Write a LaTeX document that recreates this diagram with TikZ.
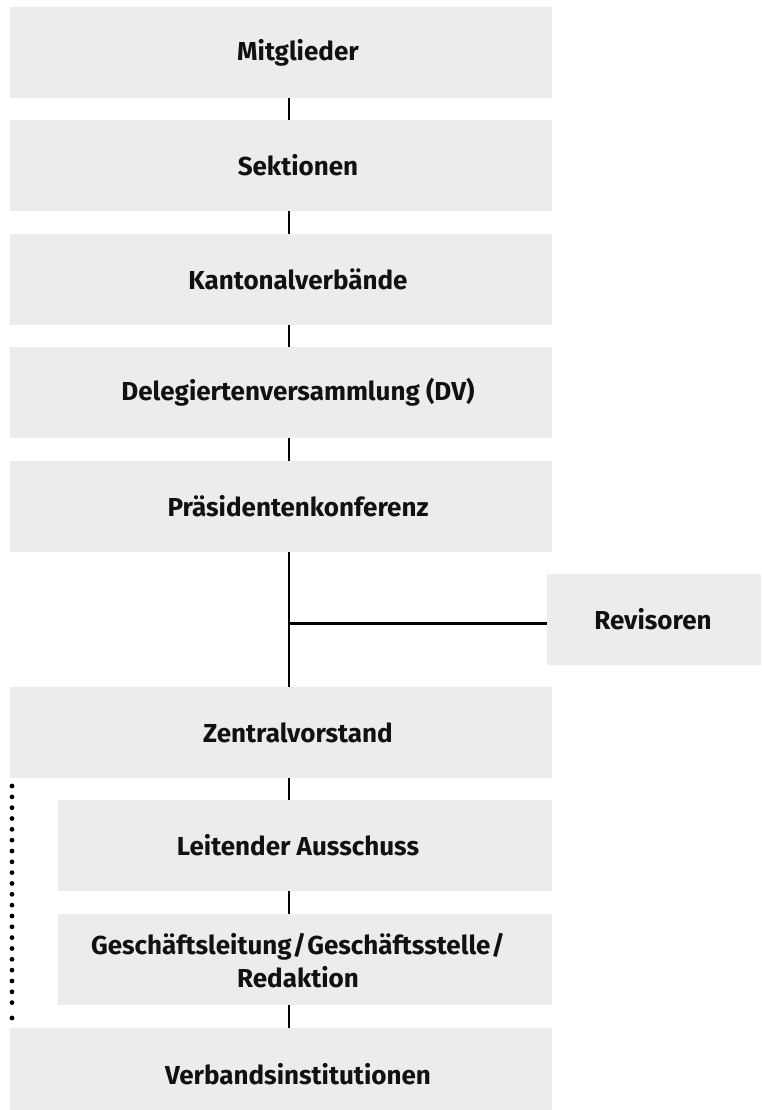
\documentclass[tikz,border=0pt]{standalone}
\usepackage{fontspec}
\setmainfont{Fira Sans}
\definecolor{boxgray}{RGB}{235,236,235}
\definecolor{ink}{RGB}{17,17,17}
\begin{document}
\begin{tikzpicture}[x=1pt,y=-1pt,
  box/.style={fill=boxgray, draw=none, inner sep=0pt, minimum height=91pt},
  wide/.style={box, minimum width=542pt},
  narrow/.style={box, minimum width=494pt},
  lbl/.style={font=\fontsize{26}{33}\selectfont\bfseries, text=ink, align=center, inner sep=0pt},
  conn/.style={draw=black, line width=2.2pt},
  dotmark/.style={fill=black, draw=none}]
\useasboundingbox (0,0) rectangle (761,1110);
\coordinate (spine) at (289,0);
% boxes
\node[wide] (mit) at (281,52.5) {};
\node[wide] (sek) at (281,165.5) {};
\node[wide] (kan) at (281,279.5) {};
\node[wide] (del) at (281,392.5) {};
\node[wide] (pra) at (281,506.5) {};
\node[box, minimum width=214pt] (rev) at (654,619) {};
\node[wide] (zen) at (281,732.5) {};
\node[narrow] (lei) at (305,845.5) {};
\node[narrow] (ges) at (305,959.5) {};
\node[box, minimum width=542pt, minimum height=82pt] (ver) at (281,1069) {};
% labels
\node[lbl] (tmit) at (298,52.5) {Mitglieder};
\node[lbl] (tsek) at (298,165.5) {Sektionen};
\node[lbl] (tkan) at (298,279.5) {Kantonalverbände};
\node[lbl] (tdel) at (298,392.5) {Delegiertenversammlung (DV)};
\node[lbl] (tpra) at (298,506.5) {Präsidentenkonferenz};
\node[lbl] (trev) at (653,619) {Revisoren};
\node[lbl] (tzen) at (298,732.5) {Zentralvorstand};
\node[lbl] (tlei) at (298,845.5) {Leitender Ausschuss};
\node[lbl] (tges) at (298,961) {Geschäftsleitung\kern1pt/\kern1pt Geschäftsstelle\kern1pt/\\Redaktion};
\node[lbl] (tver) at (298,1074) {Verbandsinstitutionen};
% connectors
\draw[conn] (mit.south -| spine) -- (sek.north -| spine);
\draw[conn] (sek.south -| spine) -- (kan.north -| spine);
\draw[conn] (kan.south -| spine) -- (del.north -| spine);
\draw[conn] (del.south -| spine) -- (pra.north -| spine);
\draw[conn] (pra.south -| spine) -- (zen.north -| spine);
\coordinate (branch) at (289,623.5);
\draw[conn] (branch) -- (rev.west |- branch);
\draw[conn] (zen.south -| spine) -- (lei.north -| spine);
\draw[conn] (lei.south -| spine) -- (ges.north -| spine);
\draw[conn] (ges.south -| spine) -- (ver.north -| spine);
% dotted line
\foreach \i in {0,...,20} {
  \fill[dotmark] (12,786+10.83*\i) circle (2.4pt);
}
\fill[dotmark] (12,1018) circle (2.4pt);
\end{tikzpicture}
\end{document}
